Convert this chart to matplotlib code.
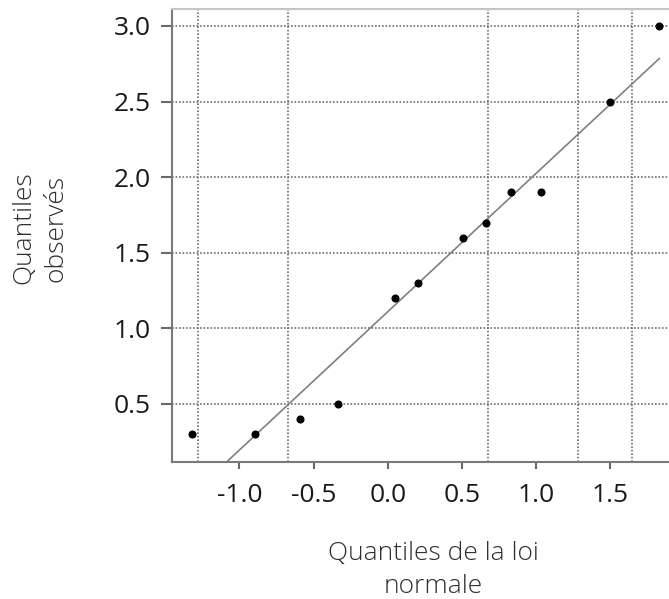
import matplotlib
matplotlib.use("Agg")
import matplotlib.pyplot as plt
import numpy as np

# Data
theoretical_quantiles = [-1.32, -0.895, -0.592, -0.334, 0.052, 0.204, 0.507, 0.662, 0.828, 1.03, 1.499, 1.83]
observed_quantiles = [0.3, 0.3, 0.4, 0.5, 1.2, 1.3, 1.6, 1.7, 1.9, 1.9, 2.5, 3.0]
line_slope = 0.915
line_intercept = 1.11
x_ticks = [-1.0, -0.5, 0.0, 0.5, 1.0, 1.5]
y_ticks = [0.5, 1.0, 1.5, 2.0, 2.5, 3.0]
x_grid = [-1.2816, -0.6745, 0.0, 0.6745, 1.2816, 1.6449]  # normal quantiles of 10/25/50/75/90/95 %

plt.rcParams['font.family'] = ['Open Sans', 'DejaVu Sans']

W, H = 669, 599
fig = plt.figure(figsize=(W / 100, H / 100), dpi=100)
left, right, top, bottom = 172, 672, 9, 462
ax = fig.add_axes([left / W, 1 - bottom / H, (right - left) / W, (bottom - top) / H])

ax.set_xlim(-1.4536, 1.9157)
ax.set_ylim(0.1164, 3.112)

ax.set_xticks(x_ticks)
ax.set_xticks(x_grid, minor=True)
ax.set_yticks(y_ticks)
ax.set_xticklabels([f"{v:.1f}" for v in x_ticks])
ax.set_yticklabels([f"{v:.1f}" for v in y_ticks])
gkw = dict(color="#6e6e6e", linewidth=1.2, linestyle=(0, (1, 1.1)))
ax.grid(False)
ax.xaxis.grid(True, which="minor", **gkw)
ax.yaxis.grid(True, which="major", **gkw)
ax.set_axisbelow(True)

# reference line
xs = np.array([min(theoretical_quantiles), max(theoretical_quantiles)])
ax.plot(xs, line_intercept + line_slope * xs, color="#808080", linewidth=1.2, zorder=2)

# points
ax.plot(theoretical_quantiles, observed_quantiles, linestyle="none", marker="o",
        markersize=4.8, color="black", zorder=3, clip_on=False)

# spines
ax.spines["right"].set_visible(False)
ax.spines["top"].set_color("#c4c4c4")
ax.spines["top"].set_linewidth(1.5)
for s in ("left", "bottom"):
    ax.spines[s].set_color("#7a7a7a")
    ax.spines[s].set_linewidth(1.5)

ax.tick_params(axis="x", which="major", length=5, width=1.5, color="#6a6a6a",
               labelsize=19, labelcolor="#1a1a1a", pad=10)
ax.tick_params(axis="x", which="minor", length=0)
ax.tick_params(axis="y", which="major", length=8, width=1.5, color="#6a6a6a",
               labelsize=19, labelcolor="#1a1a1a", pad=7)

fig.text(40 / W, 1 - 228 / H, "Quantiles\nobservés", rotation=90, ha="center", va="center",
         fontsize=19, fontweight="light", color="#2e2e2e", linespacing=1.42)
fig.text(433 / W, 1 - 570 / H, "Quantiles de la loi\nnormale", ha="center", va="center",
         fontsize=19, fontweight="light", color="#2e2e2e", linespacing=1.42)

fig.savefig("out.png", dpi=100)
